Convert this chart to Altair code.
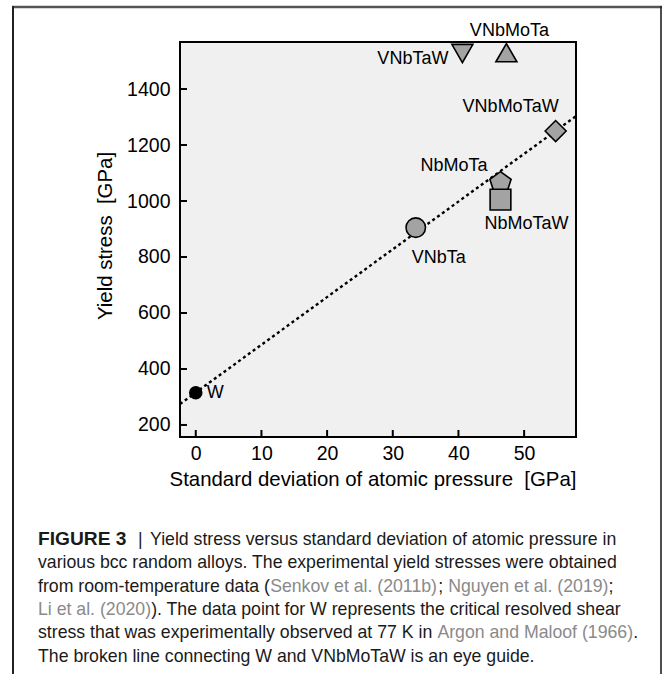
import altair as alt
import pandas as pd

# ---- data -------------------------------------------------------------
alloys = ["W", "VNbTa", "NbMoTa", "NbMoTaW", "VNbMoTaW", "VNbTaW", "VNbMoTa"]
sigma_p = [0.0, 33.5, 46.4, 46.4, 54.8, 40.6, 47.3]          # GPa
yield_stress = [315, 905, 1065, 1005, 1250, 1527, 1530]      # GPa

# eye guide through W and VNbMoTaW, running across the whole frame
guide_sigma = [-2.4, 58.0]
guide_stress = [275, 1305]

x_ticks = [0, 10, 20, 30, 40, 50]
y_ticks = [200, 400, 600, 800, 1000, 1200, 1400]

NBSP = "\u00a0"
x_title = "Standard deviation of atomic pressure " + NBSP + "[GPa]"
y_title = "Yield stress " + NBSP + "[GPa]"

caption_lines = [
    [("FIGURE 3", "bold", "ink"), ("|", "normal", "ink"),
     ("Yield stress versus standard deviation of atomic pressure in", "normal", "ink")],
    [("various bcc random alloys. The experimental yield stresses were obtained", "normal", "ink")],
    [("from room-temperature data (", "normal", "ink"), ("Senkov et al. (2011b)", "normal", "link"),
     ("; ", "normal", "ink"), ("Nguyen et al. (2019)", "normal", "link"), (";", "normal", "ink")],
    [("Li et al. (2020)", "normal", "link"), ("). The data point for W represents the critical resolved shear", "normal", "ink")],
    [("stress that was experimentally observed at 77 K in ", "normal", "ink"), ("Argon and Maloof (1966)", "normal", "link"),
     (".", "normal", "ink")],
    [("The broken line connecting W and VNbMoTaW is an eye guide.", "normal", "ink")],
]

# ---- styling ------------------------------------------------------------
FONT = "Liberation Sans"
GRAY = "#a3a3a3"
INK = "#1a1a1a"
LINK = "#8a8a8a"
W, H = 396, 395                 # plot frame in pixels
LEFT, TOP = 180, 42             # frame origin on the page
CAP_SIZE = 17.7                 # caption font size
CAP_BOLD_SIZE = 19.2
CAP_LEFT = 38
caption_baselines = [545, 568.3, 591.7, 615, 638.3, 661.7]
# fixed segment starts for the heading line (bold label, separator bar, text)
caption_fixed_x = {0: [38, 138, 150]}

# advance widths (1/1000 em) of Liberation Sans, used to run caption segments together
_W_REG = {" ": 278, "(": 333, ")": 333, ".": 278, ";": 278, "|": 260, "-": 333, ",": 278}
_W_REG.update({d: 556 for d in "0123456789"})
_W_REG.update(dict(zip("abcdefghijklmnopqrstuvwxyz",
                       [556, 556, 500, 556, 556, 278, 556, 556, 222, 222, 500, 222, 833,
                        556, 556, 556, 556, 333, 500, 278, 556, 500, 722, 500, 500, 500])))
_W_REG.update(dict(zip("ABCDEFGHIJKLMNOPQRSTUVWXYZ",
                       [667, 667, 722, 722, 667, 611, 778, 722, 278, 500, 667, 556, 833,
                        722, 778, 667, 778, 722, 667, 611, 722, 667, 944, 667, 667, 611])))


def text_width(s, size):
    return sum(_W_REG.get(ch, 556) for ch in s) * size / 1000.0


PENTAGON = "M0,-1L0.951,-0.309L0.588,0.809L-0.588,0.809L-0.951,-0.309Z"
marker_style = {
    "W": dict(shape="circle", size=143, fill="black"),
    "VNbTa": dict(shape="circle", size=380, fill=GRAY),
    "NbMoTa": dict(shape=PENTAGON, size=500, fill=GRAY),
    "NbMoTaW": dict(shape="square", size=430, fill=GRAY),
    "VNbMoTaW": dict(shape="diamond", size=441, fill=GRAY),
    "VNbTaW": dict(shape="triangle-down", size=441, fill=GRAY),
    "VNbMoTa": dict(shape="triangle-up", size=441, fill=GRAY),
}
label_style = {
    "W": dict(dx=11, dy=0, align="left"),
    "VNbTa": dict(dx=-4, dy=30, align="left"),
    "NbMoTa": dict(dx=-13, dy=-17, align="right"),
    "NbMoTaW": dict(dx=-16, dy=24, align="left"),
    "VNbMoTaW": dict(dx=3, dy=-24, align="right"),
    "VNbTaW": dict(dx=-14, dy=6, align="right"),
    "VNbMoTa": dict(dx=3, dy=-22, align="center"),
}

xscale = alt.Scale(domain=[-2.4, 57.9], nice=False, zero=False)
yscale = alt.Scale(domain=[157, 1568], nice=False, zero=False)
xaxis = alt.Axis(values=x_ticks, title=None, labelPadding=7, labelFlush=False, format="d")
yaxis = alt.Axis(values=y_ticks, title=None, labelPadding=10, labelFlush=False, format="d")


def X(field):
    return alt.X(field, type="quantitative", scale=xscale, axis=xaxis)


def Y(field):
    return alt.Y(field, type="quantitative", scale=yscale, axis=yaxis)


df = pd.DataFrame({"alloy": alloys, "sigma": sigma_p, "stress": yield_stress})
guide_df = pd.DataFrame({"sigma": guide_sigma, "stress": guide_stress})
one = pd.DataFrame({"k": [0]})

layers = []

# dotted eye guide
layers.append(
    alt.Chart(guide_df).mark_line(color="black", strokeWidth=2.4, strokeDash=[3, 3], clip=True)
    .encode(x=X("sigma"), y=Y("stress"))
)

# inward tick marks
layers.append(
    alt.Chart(pd.DataFrame({"sigma": x_ticks})).mark_rule(color="black", strokeWidth=2)
    .encode(x=X("sigma"), y=alt.value(H), y2=alt.value(H - 7))
)
layers.append(
    alt.Chart(pd.DataFrame({"stress": y_ticks})).mark_rule(color="black", strokeWidth=2)
    .encode(y=Y("stress"), x=alt.value(0), x2=alt.value(7))
)

# markers and their labels
for name in alloys:
    m = marker_style[name]
    lab = label_style[name]
    sub = alt.Chart(df).transform_filter(alt.datum.alloy == name)
    layers.append(
        sub.mark_point(shape=m["shape"], size=m["size"], filled=True, fill=m["fill"],
                       stroke="black", strokeWidth=1.6, opacity=1)
        .encode(x=X("sigma"), y=Y("stress"))
    )
    layers.append(
        sub.mark_text(font=FONT, fontSize=18, color="black", baseline="middle",
                      align=lab["align"], dx=lab["dx"], dy=lab["dy"])
        .encode(x=X("sigma"), y=Y("stress"), text="alloy:N")
    )

# axis titles
layers.append(
    alt.Chart(one).mark_text(text=x_title, font=FONT, fontSize=20.4, color="black",
                             align="center", baseline="alphabetic")
    .encode(x=alt.value(373 - LEFT), y=alt.value(486 - TOP))
)
layers.append(
    alt.Chart(one).mark_text(text=y_title, font=FONT, fontSize=20.4, color="black",
                             align="center", baseline="alphabetic", angle=270)
    .encode(x=alt.value(112 - LEFT), y=alt.value(236 - TOP))
)

# figure frame
layers.append(
    alt.Chart(one).mark_rule(color="#555555", strokeWidth=2.6)
    .encode(x=alt.value(12 - LEFT), x2=alt.value(662 - LEFT), y=alt.value(7 - TOP))
)
layers.append(
    alt.Chart(one).mark_rule(color="#222222", strokeWidth=2)
    .encode(x=alt.value(13 - LEFT), y=alt.value(6 - TOP), y2=alt.value(680 - TOP))
)
layers.append(
    alt.Chart(one).mark_rule(color="#222222", strokeWidth=1.6)
    .encode(x=alt.value(661 - LEFT), y=alt.value(6 - TOP), y2=alt.value(680 - TOP))
)

# caption, each line laid out segment after segment
for i, (segs, base) in enumerate(zip(caption_lines, caption_baselines)):
    cursor = CAP_LEFT
    fixed = caption_fixed_x.get(i)
    for j, (txt, weight, tone) in enumerate(segs):
        size = CAP_BOLD_SIZE if weight == "bold" else CAP_SIZE
        lead = len(txt) - len(txt.lstrip(" "))
        x0 = fixed[j] if fixed else cursor + text_width(" " * lead, size)
        layers.append(
            alt.Chart(one).mark_text(text=txt.strip(" "), font=FONT, fontSize=size, fontWeight=weight,
                                     color=INK if tone == "ink" else LINK,
                                     align="left", baseline="alphabetic")
            .encode(x=alt.value(x0 - LEFT), y=alt.value(base - TOP))
        )
        cursor += text_width(txt, size)

chart = (
    alt.layer(*layers)
    .properties(width=W, height=H, autosize="none", background="white",
                padding={"left": LEFT, "top": TOP, "right": 663 - LEFT - W, "bottom": 674 - TOP - H})
    .configure_view(fill="#f0f0f0", stroke="black", strokeWidth=2)
    .configure_axis(domain=False, ticks=False, tickSize=0, grid=False,
                    labelFont=FONT, labelFontSize=19.5, labelColor="black")
)

chart.save("out.html", embed_options={"renderer": "svg", "actions": False})
